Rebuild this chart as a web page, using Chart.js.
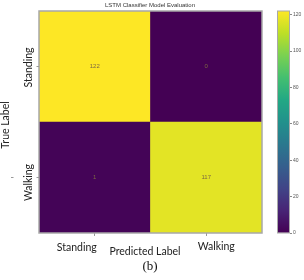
<!DOCTYPE html>
<html>
<head>
<meta charset="utf-8">
<script src="https://cdn.jsdelivr.net/npm/chart.js@4.4.1/dist/chart.umd.min.js"></script>
<style>
 html, body { margin: 0; padding: 0; background: #fff; }
 #wrap { position: relative; width: 304px; height: 280px; }
 #cm { position: absolute; left: 0; top: 0; }
 #cb { position: absolute; left: 277px; top: 0; }
</style>
</head>
<body>
<div id="wrap">
 <canvas id="cm" width="304" height="280"></canvas>
 <canvas id="cb" width="27" height="280"></canvas>
</div>
<script>
/* ── DATA ───────────────────────────────────────────── */
const classes = ['Standing', 'Walking'];
const standingRow = [122, 0];   // true = Standing
const walkingRow = [1, 117];    // true = Walking
const cbTicks = [0, 20, 40, 60, 80, 100, 120];
const cbMax = 122;

/* ── VIRIDIS ───────────────────────────────────────────── */
const VIR = ['#440154','#482475','#414487','#355f8d','#2a788e','#21918c','#22a884','#44bf70','#7ad151','#bddf26','#fde725'];
function hex(h) { return [1, 3, 5].map(i => parseInt(h.substr(i, 2), 16)); }
function viridis(t) {
 t = Math.max(0, Math.min(1, t));
 const p = t * (VIR.length - 1), i = Math.min(Math.floor(p), VIR.length - 2), f = p - i;
 const a = hex(VIR[i]), b = hex(VIR[i + 1]);
 return 'rgb(' + a.map((v, k) => Math.round(v + (b[k] - v) * f)).join(',') + ')';
}

const LBL = '"Lato", "Open Sans", sans-serif';

/* ── TEXT / FRAME PLUGIN ───────────────────────────────── */
const decor = {
 id: 'decor',
 afterDatasetsDraw(chart) {
 const { ctx, chartArea: a, scales: { x, y } } = chart;
 ctx.save();
 // cell values
 ctx.font = '6px "Liberation Sans", sans-serif';
 ctx.fillStyle = '#7d6a42';
 ctx.textAlign = 'center';
 ctx.textBaseline = 'middle';
 [walkingRow, standingRow].forEach((row, r) => {
 row.forEach((v, c) => ctx.fillText(String(v), x.getPixelForValue(c), y.getPixelForValue(r + 0.5)));
 });
 // frame
 ctx.strokeStyle = '#a8a8a8';
 ctx.lineWidth = 1.5;
 ctx.strokeRect(a.left, a.top, a.right - a.left, a.bottom - a.top);
 // y ticks + rotated class labels
 ctx.strokeStyle = '#999';
 ctx.lineWidth = 1;
 ctx.fillStyle = '#222';
 ctx.font = '10.5px ' + LBL;
 const rows = [classes[1], classes[0]];
 rows.forEach((name, r) => {
 const py = y.getPixelForValue(r + 0.5);
 ctx.beginPath(); ctx.moveTo(a.left - 2.5, py); ctx.lineTo(a.left, py); ctx.stroke();
 ctx.save();
 ctx.translate(29, py + (r === 0 ? 5 : 1));
 ctx.rotate(-Math.PI / 2);
 ctx.fillText(name, 0, 0);
 ctx.restore();
 });
 // stray mark left of Walking
 ctx.beginPath(); ctx.moveTo(11, 177.5); ctx.lineTo(13.5, 177.5); ctx.stroke();
 // x class labels (set off from their ticks as in the original)
 const xOff = [-18, 10], yOff = [248, 247];
 classes.forEach((name, c) => ctx.fillText(name, x.getPixelForValue(c) + xOff[c], yOff[c]));
 // axis titles
 ctx.fillText('Predicted Label', 145, 252);
 ctx.save();
 ctx.translate(6, 125);
 ctx.rotate(-Math.PI / 2);
 ctx.fillText('True Label', 0, 0);
 ctx.restore();
 // title
 ctx.font = '6px "Liberation Sans", sans-serif';
 ctx.fillStyle = '#333';
 ctx.fillText('LSTM Classifier Model Evaluation', 150, 5.5);
 // caption
 ctx.font = '13px "Liberation Serif", serif';
 ctx.fillStyle = '#111';
 ctx.fillText('(b)', 150, 267);
 ctx.restore();
 }
};

/* ── CONFUSION MATRIX ──────────────────────────────────── */
new Chart(document.getElementById('cm').getContext('2d'), {
 type: 'bar',
 data: {
 labels: classes,
 datasets: [
 { label: 'Walking', data: walkingRow.map(() => 1), backgroundColor: walkingRow.map(v => viridis(v / cbMax)) },
 { label: 'Standing', data: standingRow.map(() => 1), backgroundColor: standingRow.map(v => viridis(v / cbMax)) }
 ]
 },
 options: {
 responsive: false,
 animation: false,
 barPercentage: 1,
 categoryPercentage: 1,
 layout: { padding: { left: 39, right: 42, top: 11, bottom: 0 } },
 plugins: { legend: { display: false }, tooltip: { enabled: false } },
 scales: {
 x: {
 stacked: true,
 afterFit: s => { s.height = 47; },
 grid: { display: true, drawOnChartArea: false, offset: false, tickLength: 3, color: '#999' },
 border: { display: false },
 ticks: { color: 'rgba(0,0,0,0)', padding: 5, font: { family: LBL, size: 10.5 } }
 },
 y: { stacked: true, display: false, min: 0, max: 2 }
 }
 },
 plugins: [decor]
});

/* ── COLORBAR ──────────────────────────────────────────── */
const cbFill = {
 id: 'cbFill',
 beforeDatasetsDraw(chart) {
 const { ctx, scales: { y } } = chart;
 const g = ctx.createLinearGradient(0, y.getPixelForValue(0), 0, y.getPixelForValue(cbMax));
 VIR.forEach((c, i) => g.addColorStop(i / (VIR.length - 1), c));
 chart.getDatasetMeta(0).data.forEach(el => { el.options.backgroundColor = g; });
 },
 afterDatasetsDraw(chart) {
 const { ctx, chartArea: a } = chart;
 ctx.save();
 ctx.strokeStyle = '#a8a8a8';
 ctx.lineWidth = 1;
 ctx.strokeRect(a.left + 0.5, a.top, a.right - a.left - 1, a.bottom - a.top);
 ctx.restore();
 }
};

new Chart(document.getElementById('cb').getContext('2d'), {
 type: 'bar',
 data: { labels: [''], datasets: [{ data: [cbMax], backgroundColor: '#440154' }] },
 options: {
 responsive: false,
 animation: false,
 barPercentage: 1,
 categoryPercentage: 1,
 layout: { padding: { left: 0, right: 0, top: 11, bottom: 47 } },
 plugins: { legend: { display: false }, tooltip: { enabled: false } },
 scales: {
 x: { display: false },
 y: {
 position: 'right',
 min: 0, max: cbMax,
 afterFit: s => { s.width = 14; },
 afterBuildTicks: s => { s.ticks = cbTicks.map(v => ({ value: v })); },
 grid: { drawOnChartArea: false, tickLength: 2, color: '#888' },
 border: { display: false },
 ticks: { color: '#555', padding: 1, font: { family: '"Liberation Sans", sans-serif', size: 5 } }
 }
 }
 },
 plugins: [cbFill]
});
</script>
</body>
</html>
